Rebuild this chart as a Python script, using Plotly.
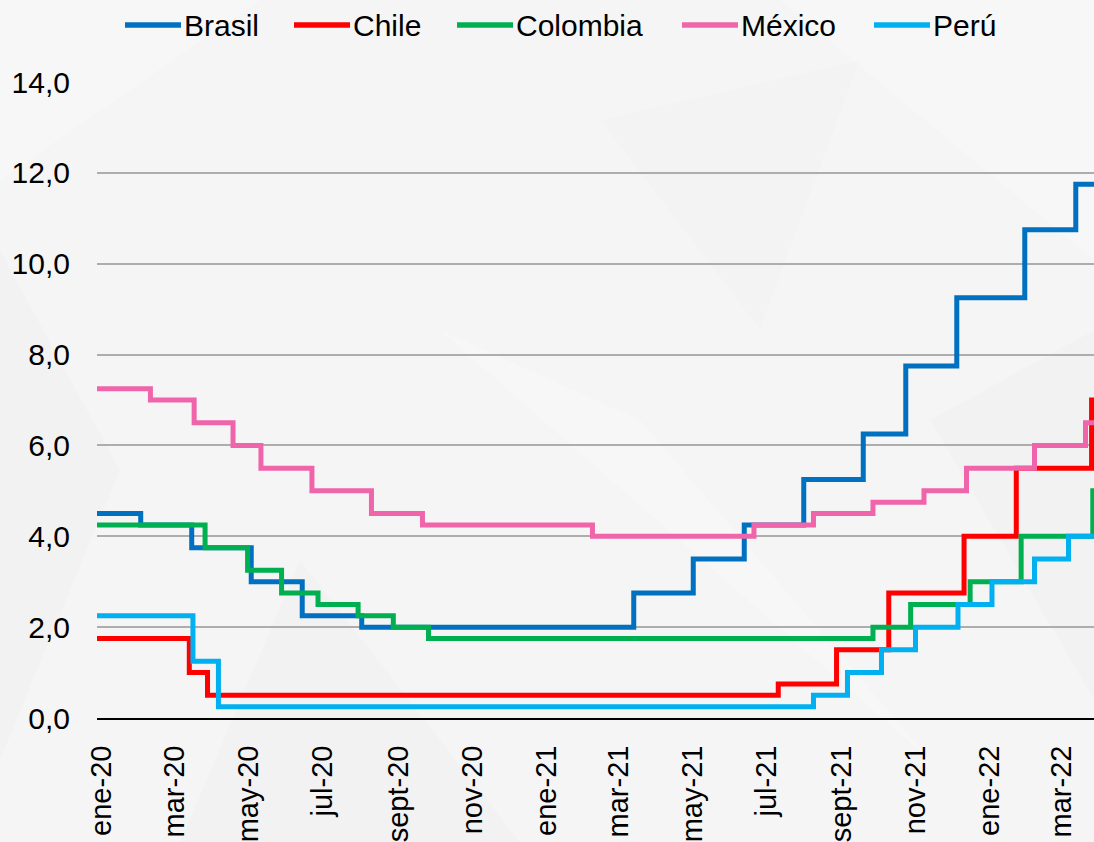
import plotly.graph_objects as go

# Policy interest rates (%) — each list holds the dates a new rate took effect
countries = ["Brasil", "Chile", "Colombia", "México", "Perú"]
colors = ["#0070C0", "#FF0000", "#00B050", "#F064AA", "#00B0F0"]

brasil_dates = ["2020-01-01", "2020-02-06", "2020-03-19", "2020-05-07", "2020-06-18",
                "2020-08-06", "2021-03-18", "2021-05-06", "2021-06-17", "2021-08-05",
                "2021-09-23", "2021-10-28", "2021-12-09", "2022-02-03", "2022-03-17"]
brasil_rates = [4.50, 4.25, 3.75, 3.00, 2.25, 2.00, 2.75, 3.50, 4.25, 5.25,
                6.25, 7.75, 9.25, 10.75, 11.75]

chile_dates = ["2020-01-01", "2020-03-17", "2020-04-01", "2021-07-15", "2021-09-01",
               "2021-10-14", "2021-12-15", "2022-01-27", "2022-03-30"]
chile_rates = [1.75, 1.00, 0.50, 0.75, 1.50, 2.75, 4.00, 5.50, 7.00]

colombia_dates = ["2020-01-01", "2020-03-30", "2020-05-04", "2020-06-01", "2020-07-01",
                  "2020-08-03", "2020-09-01", "2020-09-30", "2021-10-01", "2021-11-01",
                  "2021-12-20", "2022-01-31", "2022-03-31"]
colombia_rates = [4.25, 3.75, 3.25, 2.75, 2.50, 2.25, 2.00, 1.75, 2.00, 2.50,
                  3.00, 4.00, 5.00]

mexico_dates = ["2020-01-01", "2020-02-14", "2020-03-21", "2020-04-22", "2020-05-15",
                "2020-06-26", "2020-08-14", "2020-09-25", "2021-02-12", "2021-06-25",
                "2021-08-13", "2021-10-01", "2021-11-12", "2021-12-17", "2022-02-11",
                "2022-03-25"]
mexico_rates = [7.25, 7.00, 6.50, 6.00, 5.50, 5.00, 4.50, 4.25, 4.00, 4.25,
                4.50, 4.75, 5.00, 5.50, 6.00, 6.50]

peru_dates = ["2020-01-01", "2020-03-20", "2020-04-10", "2021-08-13", "2021-09-10",
              "2021-10-08", "2021-11-05", "2021-12-10", "2022-01-07", "2022-02-11",
              "2022-03-11"]
peru_rates = [2.25, 1.25, 0.25, 0.50, 1.00, 1.50, 2.00, 2.50, 3.00, 3.50, 4.00]

series_dates = [brasil_dates, chile_dates, colombia_dates, mexico_dates, peru_dates]
series_rates = [brasil_rates, chile_rates, colombia_rates, mexico_rates, peru_rates]
last_day = "2022-04-05"

tick_dates = ["2020-01-01", "2020-03-01", "2020-05-01", "2020-07-01", "2020-09-01",
              "2020-11-01", "2021-01-01", "2021-03-01", "2021-05-01", "2021-07-01",
              "2021-09-01", "2021-11-01", "2022-01-01", "2022-03-01"]
tick_labels = ["ene-20", "mar-20", "may-20", "jul-20", "sept-20", "nov-20", "ene-21",
               "mar-21", "may-21", "jul-21", "sept-21", "nov-21", "ene-22", "mar-22"]
y_ticks = [0, 2, 4, 6, 8, 10, 12, 14]

FONT = "Liberation Sans, Arial, sans-serif"
W, H = 1094, 842
L, R, T, B = 97, 0, 82, 124
PW, PH = W - L - R, H - T - B

fig = go.Figure()
for name, color, d, r in zip(countries, colors, series_dates, series_rates):
    fig.add_trace(go.Scatter(
        x=d + [last_day], y=r + [r[-1]],
        mode="lines", name=name, line_shape="hv",
        line=dict(color=color, width=5),
        showlegend=False,
    ))


def px_x(p):
    return (p - L) / PW


def px_y(p):
    return (H - B - p) / PH


shapes = []

# very soft low-poly texture in the background
facets = [
    ([(0, 250), (120, 470), (0, 760)], "rgba(0,0,0,0.012)"),
    ([(440, 330), (640, 420), (930, 760)], "rgba(255,255,255,0.22)"),
    ([(300, 560), (520, 842), (180, 842)], "rgba(0,0,0,0.01)"),
    ([(780, 0), (1094, 0), (1094, 260)], "rgba(255,255,255,0.22)"),
    ([(600, 120), (860, 60), (760, 330)], "rgba(0,0,0,0.008)"),
    ([(930, 420), (1094, 330), (1094, 700)], "rgba(0,0,0,0.01)"),
    ([(0, 0), (260, 0), (0, 180)], "rgba(255,255,255,0.25)"),
]
for pts, fill in facets:
    path = "M " + " L ".join(f"{px_x(x):.4f},{px_y(y):.4f}" for x, y in pts) + " Z"
    shapes.append(dict(type="path", xref="paper", yref="paper", path=path,
                       fillcolor=fill, line=dict(width=0), layer="below"))

# legend drawn as line swatches + labels across the top
legend_line_x = [125, 294, 457, 682, 874]
swatch_len = 56
legend_y_px = 25

annotations = []
for name, color, x0 in zip(countries, colors, legend_line_x):
    shapes.append(dict(type="line", xref="paper", yref="paper",
                       x0=px_x(x0), x1=px_x(x0 + swatch_len),
                       y0=px_y(legend_y_px), y1=px_y(legend_y_px),
                       line=dict(color=color, width=5.5)))
    annotations.append(dict(xref="paper", yref="paper", x=px_x(x0 + swatch_len + 1),
                            y=px_y(legend_y_px), xanchor="left", yanchor="middle",
                            text=name, showarrow=False,
                            font=dict(family=FONT, size=30, color="#000000")))

fig.update_layout(
    width=W, height=H,
    margin=dict(l=L, r=R, t=T, b=B, pad=0),
    paper_bgcolor="#F5F5F5",
    plot_bgcolor="rgba(0,0,0,0)",
    separators=",.",
    shapes=shapes,
    annotations=annotations,
    xaxis=dict(
        type="date",
        range=["2020-01-01", "2022-04-01"],
        tickvals=tick_dates, ticktext=tick_labels,
        tickangle=-90,
        tickfont=dict(family=FONT, size=29, color="#000000"),
        showgrid=False, zeroline=False,
        showline=True, linecolor="#000000", linewidth=2,
        ticks="", ticklabelstandoff=14, ticklabelshift=5,
    ),
    yaxis=dict(
        range=[0, 14],
        tickvals=y_ticks, tickformat=".1f",
        tickfont=dict(family=FONT, size=30, color="#000000"),
        showgrid=True, gridcolor="#ADADAD", gridwidth=1.5,
        zeroline=False, showline=False,
        ticks="", ticklabelstandoff=26,
    ),
)

fig.write_html("out.html")
